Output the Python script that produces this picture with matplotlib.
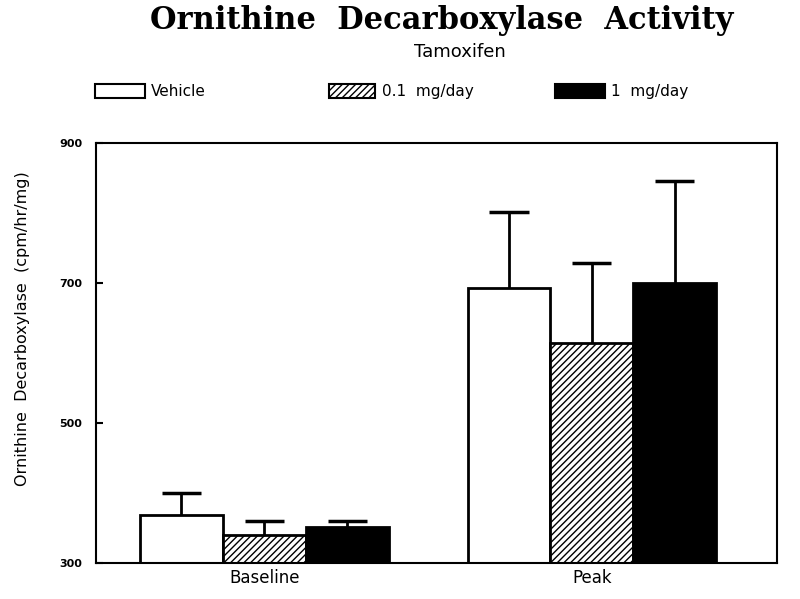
import numpy as np
import matplotlib.pyplot as plt
from matplotlib.patches import Rectangle

# values (cpm/hr/mg)
groups = ["Baseline", "Peak"]
series = ["Vehicle", "0.1  mg/day", "1  mg/day"]
vehicle = [368, 693]
low_dose = [340, 614]
high_dose = [351, 700]
vehicle_err = [32, 108]
low_err = [20, 115]
high_err = [9, 146]
y_ticks = [300, 500, 700, 900]

plt.rcParams['hatch.linewidth'] = 1.0

fig = plt.figure(figsize=(8, 5.99), dpi=100)
ax = fig.add_axes([0.12, 0.06, 0.851, 0.701])

x = np.arange(len(groups))
w = 0.253
cap = 0.06
styles = [
    dict(facecolor="white", hatch=None),
    dict(facecolor="white", hatch="/////"),
    dict(facecolor="black", hatch=None),
]
means = [vehicle, low_dose, high_dose]
errs = [vehicle_err, low_err, high_err]

for i, (m, e, st) in enumerate(zip(means, errs, styles)):
    pos = x + (i - 1) * w
    m = np.array(m)
    e = np.array(e)
    ax.bar(pos, m, width=w, bottom=0, facecolor=st["facecolor"],
           edgecolor="black", linewidth=2, hatch=st["hatch"], zorder=2)
    # upper error bar only
    ax.vlines(pos, m, m + e, color="black", linewidth=2, zorder=1)
    ax.hlines(m + e, pos - cap, pos + cap, color="black", linewidth=2.5, zorder=1)

ax.set_ylim(300, 900)
ax.set_xlim(-0.514, 1.565)
ax.set_yticks(y_ticks)
ax.set_yticklabels([str(v) for v in y_ticks], fontsize=8, fontweight="bold")
ax.tick_params(axis="y", direction="in", length=5, width=1.5, pad=10)
ax.set_xticks(x)
ax.set_xticklabels(groups, fontsize=12)
ax.tick_params(axis="x", length=0, pad=4)
for sp in ax.spines.values():
    sp.set_linewidth(1.5)

fig.text(0.028, 0.452, "Ornithine  Decarboxylase  (cpm/hr/mg)", rotation=90,
         ha="center", va="center", fontsize=11.5)

fig.text(0.552, 0.965, "Ornithine  Decarboxylase  Activity", ha="center",
         va="center", fontsize=22, fontweight="bold", family="DejaVu Serif")
fig.text(0.575, 0.914, "Tamoxifen", ha="center", va="center", fontsize=13)

# legend row
leg_y = 0.848
boxes = [(0.119, 0.062), (0.411, 0.058), (0.694, 0.062)]
for (bx, bw), st, lab in zip(boxes, styles, series):
    r = Rectangle((bx, leg_y - 0.012), bw, 0.024, transform=fig.transFigure,
                  facecolor=st["facecolor"], edgecolor="black", linewidth=1.5,
                  hatch=st["hatch"])
    fig.patches.append(r)
    fig.text(bx + bw + 0.008, leg_y, lab, ha="left", va="center", fontsize=11)

fig.savefig("out.png", dpi=100)
